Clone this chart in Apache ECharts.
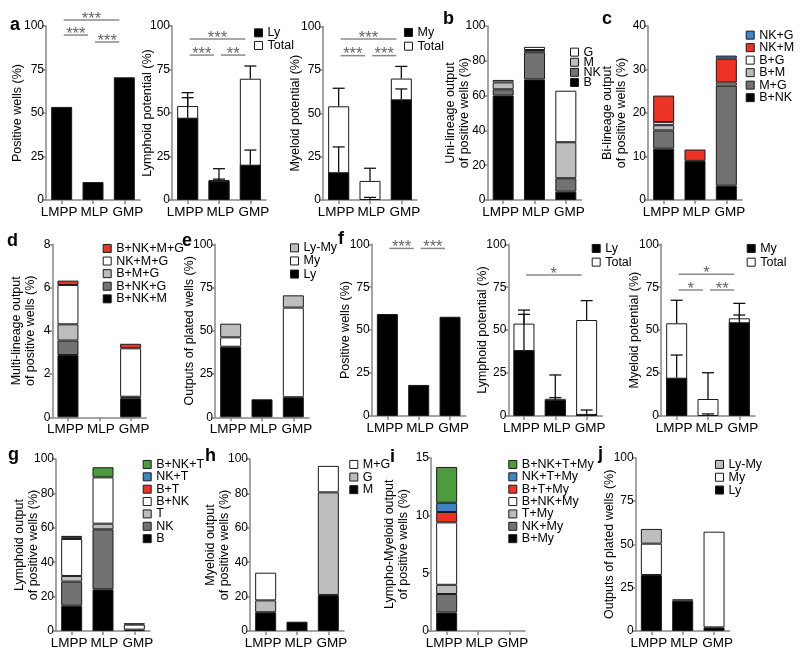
<!DOCTYPE html>
<html><head><meta charset="utf-8">
<script src="https://cdn.jsdelivr.net/npm/echarts@6/dist/echarts.min.js"></script>
<style>html,body{margin:0;padding:0;background:#fff}#c{width:800px;height:659px}</style>
</head><body><div id="c"></div>
<script>
// ---------- data ----------
const categories = ['LMPP', 'MLP', 'GMP'];
// a
const aPositiveWells = [53.5, 10.3, 70.5];
const aSig1 = [[0, 2, 103.4, '***'], [0, 1, 94.8, '***'], [1, 2, 90.8, '***']];
const aLy = [47.3, 11, 20.3];
const aLyTotal = [54, 11.5, 69.7];
const aLyErr = [58.8, 12, 28.7];
const aLyTotalErr = [61.7, 18, 77];
const aSig2 = [[0, 2, 92.5, '***'], [0, 1, 83.3, '***'], [1, 2, 83.3, '**']];
const aMy = [16, 0, 58];
const aMyTotal = [54, 11, 70];
const aMyErr = [30.6, 1.5, 64];
const aMyTotalErr = [64.4, 18.3, 77];
const aSig3 = [[0, 2, 92.8, '***'], [0, 1, 83.2, '***'], [1, 2, 83.2, '***']];
// b
const bB = [60, 69.3, 4.8];
const bNK = [3.6, 15.6, 7.7];
const bM = [4, 1.3, 20.7];
const bG = [1.4, 1.8, 29.6];
// c
const cBNK = [11.8, 9.0, 3.3];
const cMG = [4.2, 0, 23];
const cBM = [1.2, 0, 0.7];
const cBG = [0.7, 0, 0];
const cNKM = [6.1, 2.6, 5.5];
const cNKG = [0, 0, 0.7];
// d
const dBNKM = [2.88, 0, 0.88];
const dBNKG = [0.67, 0, 0];
const dBMG = [0.75, 0, 0.07];
const dNKMG = [1.82, 0, 2.24];
const dBNKMG = [0.2, 0, 0.21];
// e
const eLy = [40.8, 10.4, 11.6];
const eMy = [5.4, 0, 51.8];
const eLyMy = [7.9, 0, 7.1];
// f
const fPositiveWells = [59.4, 18.1, 57.8];
const fSig1 = [[0, 1, 97.6, '***'], [1, 2, 97.6, '***']];
const fLy = [38.4, 9.3, 1.2];
const fLyTotal = [53.8, 10, 55.9];
const fLyErr = [59.2, 10.7, 3.5];
const fLyTotalErr = [61.7, 23.9, 67.2];
const fSig2 = [[0, 2, 82.1, '*']];
const fMy = [22.3, 0, 54.6];
const fMyTotal = [54, 9.9, 56.9];
const fMyErr = [35.5, 1.2, 58.8];
const fMyTotalErr = [67.4, 25.2, 65.6];
const fSig3 = [[0, 2, 82.5, '*'], [0, 1, 73.4, '*'], [1, 2, 73.4, '**']];
// g
const gB = [14.7, 24.2, 0.8];
const gNK = [14, 34.9, 0];
const gT = [3.3, 3.3, 0];
const gBNK = [21.5, 26.9, 2.9];
const gBT = [0, 0, 0];
const gNKT = [1, 0, 0.8];
const gBNKT = [0.8, 5.9, 0];
// h
const hM = [10.9, 5.4, 20.9];
const hG = [6.9, 0, 59.7];
const hMG = [16.1, 0, 15.4];
// i
const iBMy = [1.6, 0, 0];
const iNKMy = [1.6, 0, 0];
const iTMy = [0.8, 0, 0];
const iBNKMy = [5.4, 0, 0];
const iBTMy = [0.9, 0, 0];
const iNKTMy = [0.8, 0, 0];
const iBNKTMy = [3.1, 0, 0];
// j
const jLy = [32.3, 17.5, 2.1];
const jMy = [18.1, 0.8, 55.2];
const jLyMy = [8.5, 0, 0];

// ---------- style ----------
const FONT = '"Liberation Sans", Arial, Helvetica, sans-serif';
const AX = '#868686';
const BORDER = '#1a1a1a';
const C = { black: '#000000', dark: '#727272', light: '#bdbdbd', white: '#ffffff',
  red: '#ec3326', blue: '#3d85c6', green: '#4d9b3d' };
const LEG_H = 12.7;

const grids = [], xAxes = [], yAxes = [], series = [], legends = [], titles = [];
const catRich = {
  c0: { fontSize: 13.5, color: '#000', fontFamily: FONT, padding: [0, 5, 0, 0] },
  c1: { fontSize: 13.5, color: '#000', fontFamily: FONT, padding: [0, 0, 0, 3] },
  c2: { fontSize: 13.5, color: '#000', fontFamily: FONT, padding: [0, 0, 0, 7] }
};

function panel(cfg) {
  const gi = grids.length;
  grids.push({ left: cfg.left, top: cfg.top, width: 94, height: cfg.height, outerBoundsMode: 'none', containLabel: false });
  xAxes.push({ type: 'category', gridIndex: gi, data: categories, boundaryGap: true,
    axisLine: { show: true, lineStyle: { color: AX, width: 1.5 } },
    axisTick: { show: true, alignWithLabel: true, length: 4, lineStyle: { color: AX, width: 1.5 } },
    axisLabel: { interval: 0, color: '#000', fontSize: 13.5, margin: 5, fontFamily: FONT, hideOverlap: false,
      formatter: (v, i) => '{c' + i + '|' + v + '}', rich: catRich },
    splitLine: { show: false } });
  yAxes.push({ type: 'value', gridIndex: gi, min: 0, max: cfg.max, interval: cfg.interval,
    name: cfg.name, nameLocation: 'middle', nameGap: cfg.nameGap, nameMoveOverlap: false,
    nameTextStyle: { color: '#000', fontSize: 12.5, lineHeight: 14, fontFamily: FONT },
    axisLine: { show: true, lineStyle: { color: AX, width: 1.5 } },
    axisTick: { show: true, length: 3.5, lineStyle: { color: AX, width: 1.5 } },
    axisLabel: { color: '#000', fontSize: 12, margin: 2, fontFamily: FONT },
    splitLine: { show: false } });
  return gi;
}
function nz(arr) { return arr.map(v => (v === 0 ? null : v)); }
function single(gi, pid, data) {
  series.push({ type: 'bar', name: 'bar|' + pid, xAxisIndex: gi, yAxisIndex: gi, barWidth: 21, data: data,
    itemStyle: { color: C.black, borderColor: BORDER, borderWidth: 1 }, silent: true });
}
function stacked(gi, pid, layers) {
  layers.forEach(l => series.push({ type: 'bar', name: l[0] + '|' + pid, xAxisIndex: gi, yAxisIndex: gi,
    stack: pid, barWidth: 21, data: nz(l[1]), silent: true,
    itemStyle: { color: l[2], borderColor: BORDER, borderWidth: 1 } }));
}
function overlay(gi, pid, backName, back, frontName, front) {
  series.push({ type: 'bar', name: backName + '|' + pid, xAxisIndex: gi, yAxisIndex: gi, barWidth: 21, barGap: '-100%',
    data: nz(back), silent: true, itemStyle: { color: C.white, borderColor: BORDER, borderWidth: 1 } });
  series.push({ type: 'bar', name: frontName + '|' + pid, xAxisIndex: gi, yAxisIndex: gi, barWidth: 21, barGap: '-100%',
    data: nz(front), silent: true, itemStyle: { color: C.black, borderColor: BORDER, borderWidth: 1 } });
}
function errors(gi, vals, errs) {
  series.push({ type: 'custom', xAxisIndex: gi, yAxisIndex: gi, z: 5, silent: true, clip: false,
    data: vals.map((v, i) => [i, v, errs[i]]),
    renderItem: (params, api) => {
      const a = api.coord([api.value(0), api.value(1)]);
      const b = api.coord([api.value(0), api.value(2)]);
      return { type: 'group', children: [
        { type: 'line', shape: { x1: a[0], y1: a[1], x2: b[0], y2: b[1] }, style: { stroke: '#111', lineWidth: 1.3 } },
        { type: 'line', shape: { x1: b[0] - 6, y1: b[1], x2: b[0] + 6, y2: b[1] }, style: { stroke: '#111', lineWidth: 1.3 } }
      ] };
    } });
}
function sig(gi, items) {
  series.push({ type: 'custom', xAxisIndex: gi, yAxisIndex: gi, z: 5, silent: true, clip: false,
    data: items.map(s => [s[0], s[2], s[1]]),
    renderItem: (params, api) => {
      const s = items[params.dataIndex];
      const p1 = api.coord([s[0], s[2]]), p2 = api.coord([s[1], s[2]]);
      const x1 = p1[0] + 2, x2 = p2[0] - 5, y = p1[1];
      return { type: 'group', children: [
        { type: 'line', shape: { x1: x1, y1: y, x2: x2, y2: y }, style: { stroke: '#8a8a8a', lineWidth: 1.5 } },
        { type: 'text', style: { text: s[3], x: (x1 + x2) / 2, y: y - 1, textAlign: 'center', align: 'center',
          textVerticalAlign: 'middle', verticalAlign: 'middle', fill: '#666', font: '16.5px ' + FONT } }
      ] };
    } });
}
function legend(pid, left, firstCenter, spacing, names) {
  legends.push({ orient: 'vertical', left: left, top: firstCenter - LEG_H / 2, padding: 0,
    itemGap: spacing - LEG_H, itemWidth: 8, itemHeight: 8,
    icon: 'rect', selectedMode: false, data: names.map(n => n + '|' + pid), formatter: n => n.split('|')[0],
    textStyle: { fontSize: 12.5, color: '#000', fontFamily: FONT },
    itemStyle: { borderColor: BORDER, borderWidth: 1 } });
}
function letter(t, left, top) {
  titles.push({ text: t, left: left, top: top, padding: 0,
    textStyle: { fontSize: 18, fontWeight: 'bold', color: '#000', fontFamily: FONT } });
}

// ---------- panels ----------
let gi;
// a1
gi = panel({ left: 46, top: 26, height: 174, max: 100, interval: 25, name: 'Positive wells (%)', nameGap: 21 });
single(gi, 'a1', aPositiveWells); sig(gi, aSig1);
// a2
gi = panel({ left: 172, top: 26, height: 174, max: 100, interval: 25, name: 'Lymphoid potential (%)', nameGap: 17 });
overlay(gi, 'a2', 'Total', aLyTotal, 'Ly', aLy);
errors(gi, aLyTotal, aLyTotalErr); errors(gi, aLy, aLyErr); sig(gi, aSig2);
legend('a2', 254, 32.7, 12.3, ['Ly', 'Total']);
// a3
gi = panel({ left: 323, top: 26.5, height: 173.5, max: 100, interval: 25, name: 'Myeloid potential (%)', nameGap: 20 });
overlay(gi, 'a3', 'Total', aMyTotal, 'My', aMy);
errors(gi, aMyTotal, aMyTotalErr); errors(gi, aMy, aMyErr); sig(gi, aSig3);
legend('a3', 404, 32.3, 13.4, ['My', 'Total']);
// b
gi = panel({ left: 487.5, top: 26, height: 174, max: 100, interval: 20, name: 'Uni-lineage output\nof positive wells (%)', nameGap: 16 });
stacked(gi, 'b', [['B', bB, C.black], ['NK', bNK, C.dark], ['M', bM, C.light], ['G', bG, C.white]]);
legend('b', 570, 52, 9.8, ['G', 'M', 'NK', 'B']);
// c
gi = panel({ left: 648, top: 26, height: 174, max: 40, interval: 10, name: 'Bi-lineage output\nof positive wells (%)', nameGap: 19 });
stacked(gi, 'c', [['B+NK', cBNK, C.black], ['M+G', cMG, C.dark], ['B+M', cBM, C.light], ['B+G', cBG, C.white],
  ['NK+M', cNKM, C.red], ['NK+G', cNKG, C.blue]]);
legend('c', 745.7, 35, 12.2, ['NK+G', 'NK+M', 'B+G', 'B+M', 'M+G', 'B+NK']);
// d
gi = panel({ left: 52.3, top: 244.3, height: 173, max: 8, interval: 2, name: 'Multi-lineage output\nof positive wells (%)', nameGap: 15 });
stacked(gi, 'd', [['B+NK+M', dBNKM, C.black], ['B+NK+G', dBNKG, C.dark], ['B+M+G', dBMG, C.light],
  ['NK+M+G', dNKMG, C.white], ['B+NK+M+G', dBNKMG, C.red]]);
legend('d', 102.7, 248.3, 12.3, ['B+NK+M+G', 'NK+M+G', 'B+M+G', 'B+NK+G', 'B+NK+M']);
// e
gi = panel({ left: 215, top: 244.3, height: 173, max: 100, interval: 25, name: 'Outputs of plated wells (%)', nameGap: 18 });
stacked(gi, 'e', [['Ly', eLy, C.black], ['My', eMy, C.white], ['Ly-My', eLyMy, C.light]]);
legend('e', 290, 247.7, 12.8, ['Ly-My', 'My', 'Ly']);
// f1
gi = panel({ left: 371.7, top: 244.3, height: 171.7, max: 100, interval: 25, name: 'Positive wells (%)', nameGap: 19 });
single(gi, 'f1', fPositiveWells); sig(gi, fSig1);
// f2
gi = panel({ left: 508.3, top: 244.3, height: 171.7, max: 100, interval: 25, name: 'Lymphoid potential (%)', nameGap: 18.5 });
overlay(gi, 'f2', 'Total', fLyTotal, 'Ly', fLy);
errors(gi, fLyTotal, fLyTotalErr); errors(gi, fLy, fLyErr); sig(gi, fSig2);
legend('f2', 591.7, 248.3, 13.4, ['Ly', 'Total']);
// f3
gi = panel({ left: 661, top: 244.3, height: 171.7, max: 100, interval: 25, name: 'Myeloid potential (%)', nameGap: 19.5 });
overlay(gi, 'f3', 'Total', fMyTotal, 'My', fMy);
errors(gi, fMyTotal, fMyTotalErr); errors(gi, fMy, fMyErr); sig(gi, fSig3);
legend('f3', 746.7, 248.3, 13.4, ['My', 'Total']);
// g
gi = panel({ left: 56, top: 459, height: 172, max: 100, interval: 20, name: 'Lymphoid output\nof positive wells (%)', nameGap: 15.5 });
stacked(gi, 'g', [['B', gB, C.black], ['NK', gNK, C.dark], ['T', gT, C.light], ['B+NK', gBNK, C.white],
  ['B+T', gBT, C.red], ['NK+T', gNKT, C.blue], ['B+NK+T', gBNKT, C.green]]);
legend('g', 142.7, 464.3, 12.07, ['B+NK+T', 'NK+T', 'B+T', 'B+NK', 'T', 'NK', 'B']);
// h
gi = panel({ left: 250, top: 459, height: 172, max: 100, interval: 20, name: 'Myeloid output\nof positive wells (%)', nameGap: 18 });
stacked(gi, 'h', [['M', hM, C.black], ['G', hG, C.light], ['M+G', hMG, C.white]]);
legend('h', 349.3, 464.3, 12.3, ['M+G', 'G', 'M']);
// i
gi = panel({ left: 431, top: 457.7, height: 173.3, max: 15, interval: 5, name: 'Lympho-Myeloid output\nof positive wells (%)', nameGap: 20 });
stacked(gi, 'i', [['B+My', iBMy, C.black], ['NK+My', iNKMy, C.dark], ['T+My', iTMy, C.light], ['B+NK+My', iBNKMy, C.white],
  ['B+T+My', iBTMy, C.red], ['NK+T+My', iNKTMy, C.blue], ['B+NK+T+My', iBNKTMy, C.green]]);
legend('i', 508.3, 464.3, 12.07, ['B+NK+T+My', 'NK+T+My', 'B+T+My', 'B+NK+My', 'T+My', 'NK+My', 'B+My']);
// j
gi = panel({ left: 635.7, top: 457.7, height: 173.3, max: 100, interval: 25, name: 'Outputs of plated wells (%)', nameGap: 19 });
stacked(gi, 'j', [['Ly', jLy, C.black], ['My', jMy, C.white], ['Ly-My', jLyMy, C.light]]);
legend('j', 715, 464.3, 12.5, ['Ly-My', 'My', 'Ly']);

letter('a', 10, 16); letter('b', 443, 10); letter('c', 602, 10);
letter('d', 7, 232); letter('e', 182, 232); letter('f', 338, 230);
letter('g', 8, 446); letter('h', 205, 447); letter('i', 390, 448); letter('j', 598, 445);

const chart = echarts.init(document.getElementById('c'), null, { renderer: 'canvas' });
chart.setOption({
  animation: false,
  backgroundColor: '#ffffff',
  textStyle: { fontFamily: FONT },
  title: titles, grid: grids, xAxis: xAxes, yAxis: yAxes, legend: legends, series: series,
  tooltip: { show: false }
});
</script>
</body></html>
